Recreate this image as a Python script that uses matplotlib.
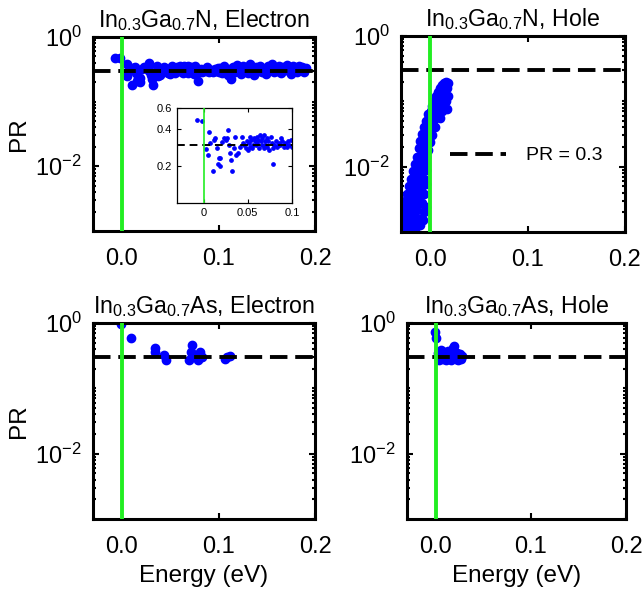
import numpy as np
import matplotlib
matplotlib.use('Agg')
import matplotlib.pyplot as plt
from matplotlib.ticker import FixedLocator, NullFormatter, NullLocator, FuncFormatter, LogFormatterSciNotation

plt.rcParams['font.family'] = ['Liberation Sans', 'DejaVu Sans']
plt.rcParams['mathtext.fontset'] = 'custom'
plt.rcParams['mathtext.rm'] = 'Liberation Sans'
plt.rcParams['mathtext.it'] = 'Liberation Sans:italic'
plt.rcParams['mathtext.bf'] = 'Liberation Sans:bold'

#%% ------------------------------- ###
###              Data               ###
### ------------------------------- ###

pr_ref = 0.3

titles = ['In$_{0.3}$Ga$_{0.7}$N, Electron', 'In$_{0.3}$Ga$_{0.7}$N, Hole',
          'In$_{0.3}$Ga$_{0.7}$As, Electron', 'In$_{0.3}$Ga$_{0.7}$As, Hole']

# In0.3Ga0.7N electron
E_gan_el = [-0.007, -0.002, 0.0057, 0.003, 0.005, 0.0103, 0.0076, 0.0114, 0.013, 0.015,
            0.017, 0.019, 0.016, 0.019, 0.021, 0.023, 0.025, 0.0266, 0.028, 0.0285,
            0.0297, 0.031, 0.032, 0.034, 0.036, 0.037, 0.039, 0.041, 0.044, 0.045,
            0.046, 0.0475, 0.049, 0.050, 0.051, 0.052, 0.053, 0.054, 0.055, 0.056,
            0.057, 0.058, 0.059, 0.060, 0.061, 0.062, 0.063, 0.064, 0.065, 0.066,
            0.0665, 0.068, 0.0684, 0.0696, 0.070, 0.0715, 0.072, 0.073, 0.0745, 0.076,
            0.077, 0.078, 0.079, 0.080, 0.082, 0.083, 0.084, 0.0855, 0.087, 0.088,
            0.089, 0.0905, 0.092, 0.093, 0.094, 0.096, 0.097, 0.099, 0.100,
            0.102, 0.104, 0.106, 0.108, 0.110, 0.112, 0.113, 0.115, 0.117, 0.119,
            0.121, 0.123, 0.125, 0.127, 0.129, 0.131, 0.133, 0.135, 0.137, 0.139,
            0.141, 0.143, 0.145, 0.147, 0.149, 0.151, 0.153, 0.155, 0.157, 0.159,
            0.161, 0.163, 0.165, 0.167, 0.169, 0.171, 0.173, 0.175, 0.177, 0.179,
            0.181, 0.183, 0.185, 0.187, 0.189, 0.191]
PR_gan_el = [0.48, 0.47, 0.385, 0.277, 0.246, 0.182, 0.312, 0.328, 0.338, 0.28,
             0.232, 0.232, 0.21, 0.20, 0.318, 0.338, 0.328, 0.338, 0.395, 0.30,
             0.255, 0.224, 0.182, 0.28, 0.35, 0.246, 0.255, 0.29, 0.345, 0.31,
             0.30, 0.28, 0.32, 0.272, 0.31, 0.35, 0.29, 0.33, 0.28, 0.30,
             0.338, 0.32, 0.30, 0.35, 0.31, 0.33, 0.28, 0.36, 0.32, 0.30,
             0.338, 0.28, 0.36, 0.32, 0.30, 0.29, 0.338, 0.32, 0.272, 0.35,
             0.31, 0.28, 0.21, 0.30, 0.32, 0.29, 0.30, 0.31, 0.30, 0.338,
             0.32, 0.29, 0.31, 0.30, 0.29, 0.32, 0.30, 0.33, 0.29,
             0.33, 0.28, 0.36, 0.30, 0.26, 0.32, 0.22, 0.34, 0.29, 0.37,
             0.31, 0.27, 0.35, 0.30, 0.33, 0.28, 0.38, 0.31, 0.26, 0.34,
             0.30, 0.36, 0.29, 0.32, 0.27, 0.35, 0.31, 0.38, 0.29, 0.33,
             0.30, 0.36, 0.28, 0.34, 0.31, 0.37, 0.30, 0.27, 0.35, 0.32,
             0.29, 0.36, 0.31, 0.34, 0.29, 0.33]

# In0.3Ga0.7N hole
E_gan_h = [0.016, 0.018, 0.014, 0.012, 0.017, 0.015, 0.010, 0.008, 0.013, 0.018,
           0.006, 0.011, 0.016, 0.004, 0.009, 0.014, 0.017, 0.002, 0.007, 0.012,
           0.001, 0.005, 0.010,
           -0.002, 0.003, -0.004, 0.000, 0.005, -0.006, -0.002, 0.002, -0.008, -0.004,
           0.000, -0.010, -0.006, -0.002, -0.012, -0.008, -0.004,
           -0.014, -0.010, -0.006, -0.016, -0.012, -0.008, -0.004, -0.018, -0.014, -0.010,
           -0.006, -0.020, -0.016, -0.012, -0.008, -0.004, -0.022, -0.018, -0.014, -0.010,
           -0.006,
           -0.024, -0.020, -0.016, -0.012, -0.026, -0.022, -0.018, -0.008, -0.028, -0.024,
           -0.020, -0.014, -0.006, -0.028, -0.025, -0.021, -0.017, -0.012, -0.007, -0.029,
           -0.026, -0.022, -0.018, -0.030, -0.027, -0.024, -0.015, -0.020, -0.004, -0.010]
PR_gan_h = [0.20, 0.19, 0.19, 0.18, 0.16, 0.15, 0.16, 0.14, 0.13, 0.12,
            0.12, 0.11, 0.10, 0.10, 0.09, 0.085, 0.075, 0.085, 0.075, 0.07,
            0.07, 0.06, 0.055,
            0.065, 0.05, 0.05, 0.045, 0.04, 0.04, 0.035, 0.03, 0.032, 0.027,
            0.024, 0.025, 0.021, 0.018, 0.019, 0.016, 0.014,
            0.014, 0.012, 0.011, 0.011, 0.0095, 0.0085, 0.009, 0.0085, 0.0075, 0.007,
            0.0065, 0.0065, 0.006, 0.0055, 0.005, 0.0055, 0.005, 0.0045, 0.0042, 0.004,
            0.0038,
            0.0038, 0.0035, 0.0032, 0.003, 0.003, 0.0028, 0.0026, 0.0028, 0.0024, 0.0022,
            0.0021, 0.0022, 0.002, 0.0019, 0.0017, 0.0016, 0.0017, 0.0016, 0.0015, 0.0014,
            0.0013, 0.0012, 0.0013, 0.0011, 0.0011, 0.00105, 0.0012, 0.0011, 0.0024, 0.0013]

# In0.3Ga0.7As electron
E_gaas_el = [-0.001, 0.009, 0.034, 0.034, 0.044, 0.046, 0.073, 0.072, 0.069, 0.075,
             0.081, 0.083, 0.079, 0.109, 0.107, 0.112]
PR_gaas_el = [0.95, 0.60, 0.41, 0.36, 0.32, 0.27, 0.46, 0.36, 0.27, 0.32,
              0.36, 0.30, 0.27, 0.30, 0.28, 0.31]

# In0.3Ga0.7As hole
E_gaas_h = [-0.0007, 0.0007, 0.003, 0.005, 0.004, 0.007, 0.008, 0.010, 0.011, 0.012,
            0.014, 0.015, 0.016, 0.018, 0.019, 0.018, 0.020, 0.021, 0.022, 0.023,
            0.024, 0.025, 0.026, 0.027, 0.028, 0.006, 0.009, 0.013]
PR_gaas_h = [0.74, 0.60, 0.35, 0.30, 0.27, 0.33, 0.28, 0.31, 0.27, 0.34,
             0.29, 0.32, 0.27, 0.42, 0.45, 0.30, 0.33, 0.28, 0.31, 0.35,
             0.27, 0.30, 0.33, 0.28, 0.31, 0.38, 0.36, 0.37]

energies = [E_gan_el, E_gan_h, E_gaas_el, E_gaas_h]
prs = [PR_gan_el, PR_gan_h, PR_gaas_el, PR_gaas_h]

#%% ------------------------------- ###
###              Plot               ###
### ------------------------------- ###

fig = plt.figure(figsize=(6.42, 5.93), dpi=100)

positions = [[0.1449, 0.6105, 0.3458, 0.3272],
             [0.6246, 0.6088, 0.3489, 0.3305],
             [0.1449, 0.1248, 0.3458, 0.3305],
             [0.6340, 0.1248, 0.3411, 0.3305]]

minor_y = [s * 10.0**k for k in range(-3, 0) for s in range(1, 10) if not (s == 1 and k == -2)]

axes = []
for i, pos in enumerate(positions):
    ax = fig.add_axes(pos)
    ax.plot(energies[i], prs[i], 'o', color='#0000ff', ms=6, mec='#0000ff', zorder=2, clip_on=True)
    ax.axhline(pr_ref, color='k', ls=(0, (4.5, 2)), lw=2.8, zorder=3, label='PR = 0.3')
    ax.axvline(0, color='#22ee22', lw=2.8, zorder=4)
    ax.set_yscale('log')
    ax.set_xlim(-0.03, 0.2)
    ax.set_ylim(1e-3, 1)
    ax.set_xticks([0.0, 0.1, 0.2])
    ax.xaxis.set_major_formatter(FuncFormatter(lambda v, p: f'{v:.1f}'))
    ax.yaxis.set_major_locator(FixedLocator([1e-2, 1e0]))
    ax.yaxis.set_major_formatter(LogFormatterSciNotation())
    ax.yaxis.set_minor_locator(FixedLocator(minor_y))
    ax.yaxis.set_minor_formatter(NullFormatter())
    ax.tick_params(which='both', direction='in', top=True, right=True, labelsize=17, width=1.5)
    ax.tick_params(which='major', length=4)
    ax.tick_params(which='minor', length=2)
    ax.tick_params(axis='x', which='major', pad=12)
    ax.tick_params(axis='y', which='major', pad=8)
    for sp in ax.spines.values():
        sp.set_linewidth(2.2)
    ax.set_title(titles[i], fontsize=16.7, pad=7)
    if i in (0, 2):
        ax.set_ylabel('PR', fontsize=17.5, labelpad=4)
    if i in (2, 3):
        ax.set_xlabel('Energy (eV)', fontsize=17.5, labelpad=5)
    axes.append(ax)

axes[1].legend(loc='center left', bbox_to_anchor=(0.14, 0.39), frameon=False,
               fontsize=14, handlelength=2.9, handletextpad=1.0)

# Inset with the electron data near the band edge
ins = fig.add_axes([0.2757, 0.6577, 0.1791, 0.1602])
ins.plot(E_gan_el, PR_gan_el, 'o', color='#0000ff', ms=2.4, mec='#0000ff', zorder=2)
ins.axhline(pr_ref, color='k', ls=(0, (4, 2.5)), lw=1.4, zorder=3)
ins.axvline(0, color='#22ee22', lw=1.2, zorder=4)
ins.set_yscale('log')
ins.set_xlim(-0.03, 0.1)
ins.set_ylim(0.1, 0.6)
ins.set_xticks([0, 0.05, 0.1])
ins.set_xticklabels(['0', '0.05', '0.1'])
ins.yaxis.set_major_locator(FixedLocator([0.2, 0.4, 0.6]))
ins.yaxis.set_major_formatter(FuncFormatter(lambda v, p: f'{v:.1f}'))
ins.yaxis.set_minor_locator(NullLocator())
ins.tick_params(which='both', direction='in', top=True, right=True, labelsize=8, length=3, width=0.8)
for sp in ins.spines.values():
    sp.set_linewidth(0.9)

fig.savefig('out.png', dpi=100)
